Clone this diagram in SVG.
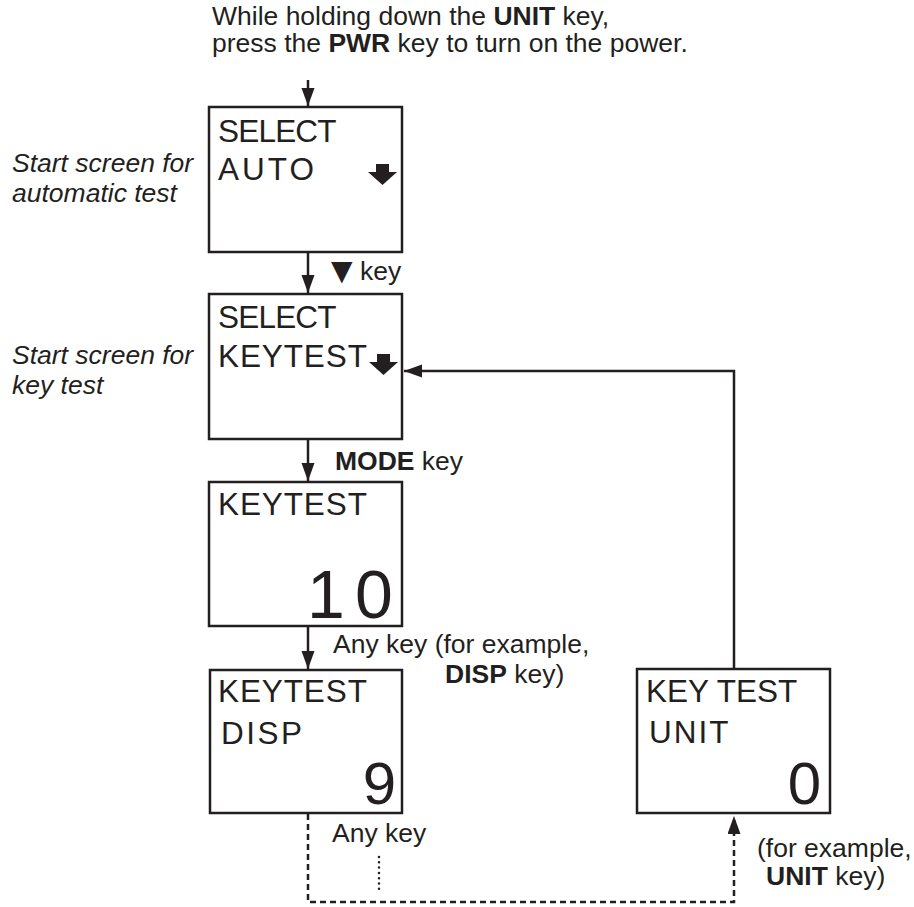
<svg xmlns="http://www.w3.org/2000/svg" width="914" height="907" viewBox="0 0 914 907">
<style>
  .box { fill: #ffffff; stroke: #231f20; stroke-width: 2.5; }
  .scr { font-family: "Liberation Sans", Arial, sans-serif; font-size: 31.5px; fill: #231f20; }
  .sel { letter-spacing: -0.8px; }
  .kt { letter-spacing: 0.9px; }
  .big { font-family: "Liberation Sans", Arial, sans-serif; fill: #231f20; }
  .lbl { font-family: "Liberation Sans", Arial, sans-serif; font-size: 26.5px; fill: #231f20; }
  .it { font-style: italic; }
  .b { font-weight: bold; }
  .icon { fill: #231f20; }
  .conn { fill: none; stroke: #231f20; stroke-width: 2.5; }
  .dash { stroke-dasharray: 6 4; }
  .dot { stroke-dasharray: 0 5.3; stroke-linecap: round; stroke-width: 2.5; }
</style>
<defs>
  <marker id="ah" markerUnits="userSpaceOnUse" markerWidth="20" markerHeight="14" refX="18" refY="6.5" orient="auto">
    <path d="M0,0 L18,6.5 L0,13 z" fill="#231f20"/>
  </marker>
</defs>

<g id="intro">
  <text class="lbl" x="212" y="25">While holding down the <tspan class="b">UNIT</tspan> key,</text>
  <text class="lbl" x="212" y="52">press the <tspan class="b">PWR</tspan> key to turn on the power.</text>
</g>

<g id="connectors">
  <path class="conn" d="M308,80 L308,106" marker-end="url(#ah)"/>
  <path class="conn" d="M308,252 L308,293" marker-end="url(#ah)"/>
  <path class="conn" d="M308,439 L308,481" marker-end="url(#ah)"/>
  <path class="conn" d="M308,626 L308,669" marker-end="url(#ah)"/>
  <path class="conn" d="M734,669 L734,371 L404,371" marker-end="url(#ah)"/>
  <path class="conn dash" d="M308,814 L308,902 L734,902 L734,816" marker-end="url(#ah)"/>
  <path class="conn dot" d="M379,857 L379,889"/>
  <text class="lbl" x="331" y="280"><tspan font-family="DejaVu Sans, sans-serif" font-size="28px">▼</tspan> key</text>
  <text class="lbl" x="335" y="470"><tspan class="b">MODE</tspan> key</text>
  <text class="lbl" x="333" y="653">Any key (for example,</text>
  <text class="lbl" x="445" y="683"><tspan class="b">DISP</tspan> key)</text>
  <text class="lbl" x="332" y="842">Any key</text>
  <text class="lbl" x="757" y="857">(for example,</text>
  <text class="lbl" x="766" y="885"><tspan class="b">UNIT</tspan> key)</text>
</g>

<g id="note-auto">
  <text class="lbl it" x="12" y="172">Start screen for</text>
  <text class="lbl it" x="12" y="202">automatic test</text>
</g>
<g id="note-key">
  <text class="lbl it" x="12" y="364">Start screen for</text>
  <text class="lbl it" x="12" y="394">key test</text>
</g>

<g id="screen-auto">
  <rect class="box" x="209" y="107" width="193" height="145"/>
  <text class="scr sel" x="218" y="142">SELECT</text>
  <text class="scr" x="218" y="180" letter-spacing="3">AUTO</text>
  <polygon class="icon" points="376,164 389,164 389,172 397,172 382.5,185 368,172 376,172"/>
</g>

<g id="screen-keytest-select">
  <rect class="box" x="209" y="294" width="193" height="145"/>
  <text class="scr sel" x="218" y="328">SELECT</text>
  <text class="scr kt" x="218" y="367">KEYTEST</text>
  <polygon class="icon" points="377,354 390,354 390,362 398,362 383.5,375 369,362 377,362"/>
</g>

<g id="screen-keytest-10">
  <rect class="box" x="209" y="482" width="193" height="144"/>
  <text class="scr kt" x="218" y="515">KEYTEST</text>
  <text class="big" x="307 355" y="618" font-size="68px">10</text>
</g>

<g id="screen-keytest-disp">
  <rect class="box" x="210" y="670" width="192" height="143"/>
  <text class="scr kt" x="218" y="702">KEYTEST</text>
  <text class="scr" x="221" y="744" letter-spacing="2.5">DISP</text>
  <text class="big" x="396" y="804" font-size="60px" text-anchor="end">9</text>
</g>

<g id="screen-keytest-unit">
  <rect class="box" x="637" y="669" width="193" height="144"/>
  <text class="scr" x="646" y="702">KEY TEST</text>
  <text class="scr" x="649" y="743" letter-spacing="2">UNIT</text>
  <text class="big" x="821" y="804" font-size="60px" text-anchor="end">0</text>
</g>
</svg>
